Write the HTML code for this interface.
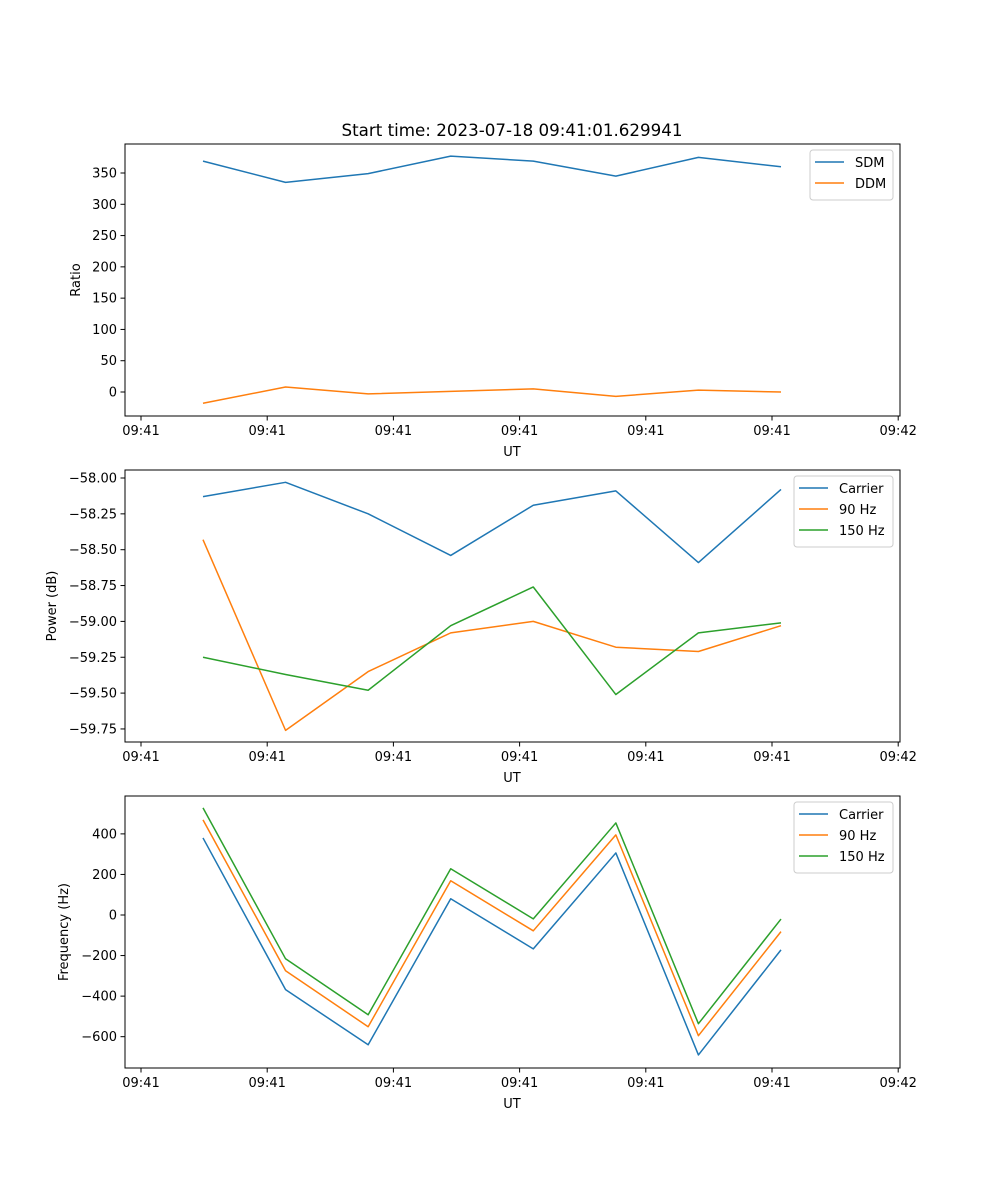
<!DOCTYPE html>
<html><head><meta charset="utf-8"><style>
html,body{margin:0;padding:0;background:#fff;}
svg{display:block;font-family:"DejaVu Sans","Liberation Sans",sans-serif;}
</style></head><body>
<svg id="fig" width="1000" height="1200" xmlns="http://www.w3.org/2000/svg"></svg>
<script>
// Data
const sampleIndex = [0,1,2,3,4,5,6,7];
const sdm = [369,335,349,377,369,345,375,360];
const ddm = [-18,8,-3,1,5,-7,3,0];
const powCarrier = [-58.13,-58.03,-58.25,-58.54,-58.19,-58.09,-58.59,-58.08];
const pow90 = [-58.43,-59.76,-59.35,-59.08,-59.00,-59.18,-59.21,-59.03];
const pow150 = [-59.25,-59.37,-59.48,-59.03,-58.76,-59.51,-59.08,-59.01];
const freqCarrier = [380,-368,-640,80,-167,306,-690,-172];
const freq90 = [469,-275,-551,169,-78,395,-595,-82];
const freq150 = [528,-216,-492,228,-19,454,-536,-20];
const xTickLabels = ["09:41","09:41","09:41","09:41","09:41","09:41","09:42"];
const ratioTicks = [0,50,100,150,200,250,300,350];
const powerTicks = [-59.75,-59.5,-59.25,-59.0,-58.75,-58.5,-58.25,-58.0];
const freqTicks = [-600,-400,-200,0,200,400];

const NS="http://www.w3.org/2000/svg";
const svg=document.getElementById('fig');
const C={blue:'#1f77b4',orange:'#ff7f0e',green:'#2ca02c'};
function el(tag,attrs,parent){const e=document.createElementNS(NS,tag);for(const k in attrs)e.setAttribute(k,attrs[k]);(parent||svg).appendChild(e);return e;}
const X0=125,X1=900;
function xs(i){return 203+i*82.57;}
function xTick(k){return 141+k*126.2;}

function panel(name,top,bot,yval2px,yticks,fmt,ylabel,yx,series,legend){
  const g=el('g',{});
  
  
  const y=v=>yval2px(v);
  series.forEach(s=>{
    const p=el('polyline',{points:s.data.map((v,i)=>xs(sampleIndex[i])+','+y(v)).join(' '),fill:'none',stroke:s.color,'stroke-width':1.5,'stroke-linejoin':'round'},g);
    
    
  });
  const fr=el('rect',{x:X0,y:top,width:X1-X0,height:bot-top,fill:'none',stroke:'#000','stroke-width':1},g);
  
  
  xTickLabels.forEach((l,k)=>{
    const x=xTick(k);
    el('line',{x1:x,x2:x,y1:bot,y2:bot+4.5,stroke:'#000'},g);
    const t=el('text',{x:x,y:bot+19,'text-anchor':'middle','font-size':13},g);t.textContent=l;
    
    
  });
  const xl=el('text',{x:512,y:bot+40,'text-anchor':'middle','font-size':13},g);xl.textContent='UT';
  
  
  yticks.forEach(v=>{
    const yy=y(v);
    el('line',{x1:X0-4.5,x2:X0,y1:yy,y2:yy,stroke:'#000'},g);
    const t=el('text',{x:X0-8,y:yy+4.5,'text-anchor':'end','font-size':13},g);t.textContent=fmt(v);
    
    
  });
  const yc=(top+bot)/2;
  const yl=el('text',{x:yx,y:yc,'text-anchor':'middle','font-size':13,transform:`rotate(-90 ${yx} ${yc})`},g);yl.textContent=ylabel;
  
  
  const lw=legend.w,lh=8+series.length*21,lx=X1-7-lw,ly=top+6;
  const lg=el('g',{},g);
  
  
  el('rect',{x:lx,y:ly,width:lw,height:lh,rx:3,fill:'#fff','fill-opacity':0.8,stroke:'#ccc'},lg);
  series.forEach((s,i)=>{
    const yy=ly+12+i*21;
    el('line',{x1:lx+5,x2:lx+34,y1:yy,y2:yy,stroke:s.color,'stroke-width':1.5},lg);
    const t=el('text',{x:lx+45,y:yy+5,'font-size':13},lg);t.textContent=s.label;
    
    
  });
}
const title=el('text',{x:512,y:136,'text-anchor':'middle','font-size':16.7});
title.textContent='Start time: 2023-07-18 09:41:01.629941';



panel('ratio',144,416,v=>392-v*0.6257,ratioTicks,v=>String(v),'Ratio',80,
 [{key:'sdm',label:'SDM',data:sdm,color:C.blue},{key:'ddm',label:'DDM',data:ddm,color:C.orange}],{w:83});
panel('power',470,742,v=>478-(v+58.0)*143.4,powerTicks,v=>'\u2212'+Math.abs(v).toFixed(2),'Power (dB)',56,
 [{key:'carrier',label:'Carrier',data:powCarrier,color:C.blue},{key:'90hz',label:'90 Hz',data:pow90,color:C.orange},{key:'150hz',label:'150 Hz',data:pow150,color:C.green}],{w:99});
panel('frequency',796,1068,v=>915-v*0.2028,freqTicks,v=>(v<0?'\u2212':'')+Math.abs(v),'Frequency (Hz)',68,
 [{key:'carrier',label:'Carrier',data:freqCarrier,color:C.blue},{key:'90hz',label:'90 Hz',data:freq90,color:C.orange},{key:'150hz',label:'150 Hz',data:freq150,color:C.green}],{w:99});
</script>
</body></html>
